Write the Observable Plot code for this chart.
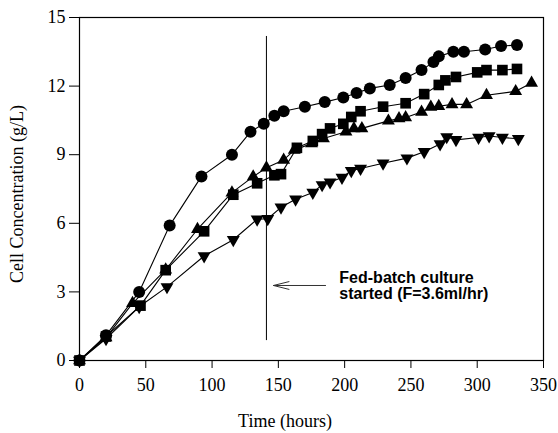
<!DOCTYPE html>
<html>
<head>
<meta charset="utf-8">
<script src="https://cdn.jsdelivr.net/npm/d3@7"></script>
<script src="https://cdn.jsdelivr.net/npm/@observablehq/plot@0.6"></script>
<style>
  html, body { margin: 0; padding: 0; background: #fff; }
</style>
</head>
<body>
<div id="chart"></div>
<script>
// ---- data ----
const xTicks = [0, 50, 100, 150, 200, 250, 300, 350];
const yTicks = [0, 3, 6, 9, 12, 15];

const circleTime = [0, 20, 45, 68, 92, 115, 129, 139, 147, 154, 170, 185, 199, 209, 219, 234, 246, 258, 267, 271, 282, 290, 306, 318, 330];
const circleConc = [0, 1.1, 3.0, 5.9, 8.05, 9.0, 10.0, 10.35, 10.7, 10.9, 11.1, 11.3, 11.5, 11.7, 11.9, 12.05, 12.35, 12.7, 13.05, 13.3, 13.5, 13.5, 13.6, 13.75, 13.8];

const squareTime = [0, 20, 46, 65, 94, 116, 134, 147, 152, 164, 176, 183, 189, 199, 205, 212, 229, 246, 260, 271, 276, 284, 300, 307, 319, 330];
const squareConc = [0, 1.05, 2.4, 3.95, 5.65, 7.25, 7.75, 8.1, 8.15, 9.3, 9.6, 9.9, 10.15, 10.35, 10.65, 10.9, 11.1, 11.25, 11.65, 12.05, 12.25, 12.4, 12.6, 12.7, 12.7, 12.75];

const triUpTime = [0, 20, 40, 65, 89, 115, 131, 141, 154, 162, 175, 184, 201, 207, 213, 233, 241, 246, 258, 265, 271, 281, 292, 307, 329, 341];
const triUpConc = [0, 1.0, 2.5, 3.97, 5.74, 7.34, 8.04, 8.43, 8.77, 9.2, 9.49, 9.71, 10.0, 10.15, 10.15, 10.48, 10.58, 10.63, 10.87, 11.09, 11.12, 11.2, 11.2, 11.6, 11.77, 12.14];

const triDownTime = [0, 20, 45, 66, 94, 116, 134, 142, 152, 163, 176, 183, 189, 198, 205, 212, 229, 247, 260, 272, 277, 284, 301, 309, 319, 331];
const triDownConc = [0, 0.95, 2.35, 3.22, 4.57, 5.28, 6.18, 6.2, 6.7, 7.05, 7.35, 7.68, 7.8, 8.0, 8.3, 8.4, 8.63, 8.85, 9.13, 9.47, 9.78, 9.65, 9.75, 9.82, 9.75, 9.7];

const xLabel = "Time (hours)";
const yLabel = "Cell Concentration (g/L)";
const noteText = "Fed-batch culture\nstarted (F=3.6ml/hr)";
const feedTime = 141;          // fed-batch start line
const feedLine = [0.87, 14.17]; // vertical extent of the marker line
const arrowSpec = {x1: 185.6, x2: 146.3, y: 3.28};
const notePos = {x: 196, y: 3.9};

// ---- build tables ----
const toRows = (t, c) => t.map((v, i) => ({t: v, c: c[i]}));
const circles = toRows(circleTime, circleConc);
const squares = toRows(squareTime, squareConc);
const trisUp = toRows(triUpTime, triUpConc);
const trisDown = toRows(triDownTime, triDownConc);

const lineOpts = {x: "t", y: "c", stroke: "black", strokeWidth: 1.1};

const chart = Plot.plot({
  width: 558,
  height: 433,
  marginLeft: 79,
  marginRight: 15,
  marginTop: 17,
  marginBottom: 73,
  style: {fontFamily: "'Liberation Serif', 'DejaVu Serif', serif", fontSize: "18px", background: "#fff", color: "black"},
  x: {domain: [0, 350]},
  y: {domain: [0, 15]},
  marks: [
    Plot.frame({stroke: "black", strokeWidth: 1.2}),
    Plot.axisX({ticks: xTicks, tickSize: 8, tickPadding: 10, label: null, tickFormat: d => String(d)}),
    Plot.axisY({ticks: yTicks, tickSize: 10, tickPadding: 4, label: null, tickFormat: d => String(d)}),
    Plot.ruleX([feedTime], {y1: feedLine[0], y2: feedLine[1], stroke: "black", strokeWidth: 1}),
    Plot.arrow([arrowSpec], {x1: "x1", x2: "x2", y1: "y", y2: "y", stroke: "#333", strokeWidth: 1, headAngle: 28, headLength: 24}),
    Plot.line(circles, lineOpts),
    Plot.line(squares, lineOpts),
    Plot.line(trisUp, lineOpts),
    Plot.line(trisDown, lineOpts),
    Plot.dot(circles, {x: "t", y: "c", symbol: "circle", r: 6, fill: "black"}),
    Plot.dot(squares, {x: "t", y: "c", symbol: "square", r: 6, fill: "black"}),
    Plot.dot(trisUp, {x: "t", y: "c", symbol: "triangle", r: 4.8, fill: "black"}),
    Plot.dot(trisDown, {x: "t", y: "c", symbol: "triangle", r: 4.8, fill: "black", rotate: 180}),
    Plot.text([noteText], {x: () => notePos.x, y: () => notePos.y, text: d => d, textAnchor: "start", lineAnchor: "top", lineHeight: 1.02,
      fontFamily: "'Liberation Sans', Arial, sans-serif", fontWeight: "bold", fontSize: 16, fill: "black"}),
    Plot.text([xLabel], {x: () => 155, frameAnchor: "bottom", dy: 61, text: d => d, textAnchor: "middle", lineAnchor: "middle", fontSize: 18, fill: "black"}),
    Plot.text([yLabel], {y: () => 7.28, frameAnchor: "left", dx: -62, rotate: -90, text: d => d, textAnchor: "middle", lineAnchor: "middle", fontSize: 18, fill: "black"})
  ]
});
document.getElementById("chart").appendChild(chart);
</script>
</body>
</html>
